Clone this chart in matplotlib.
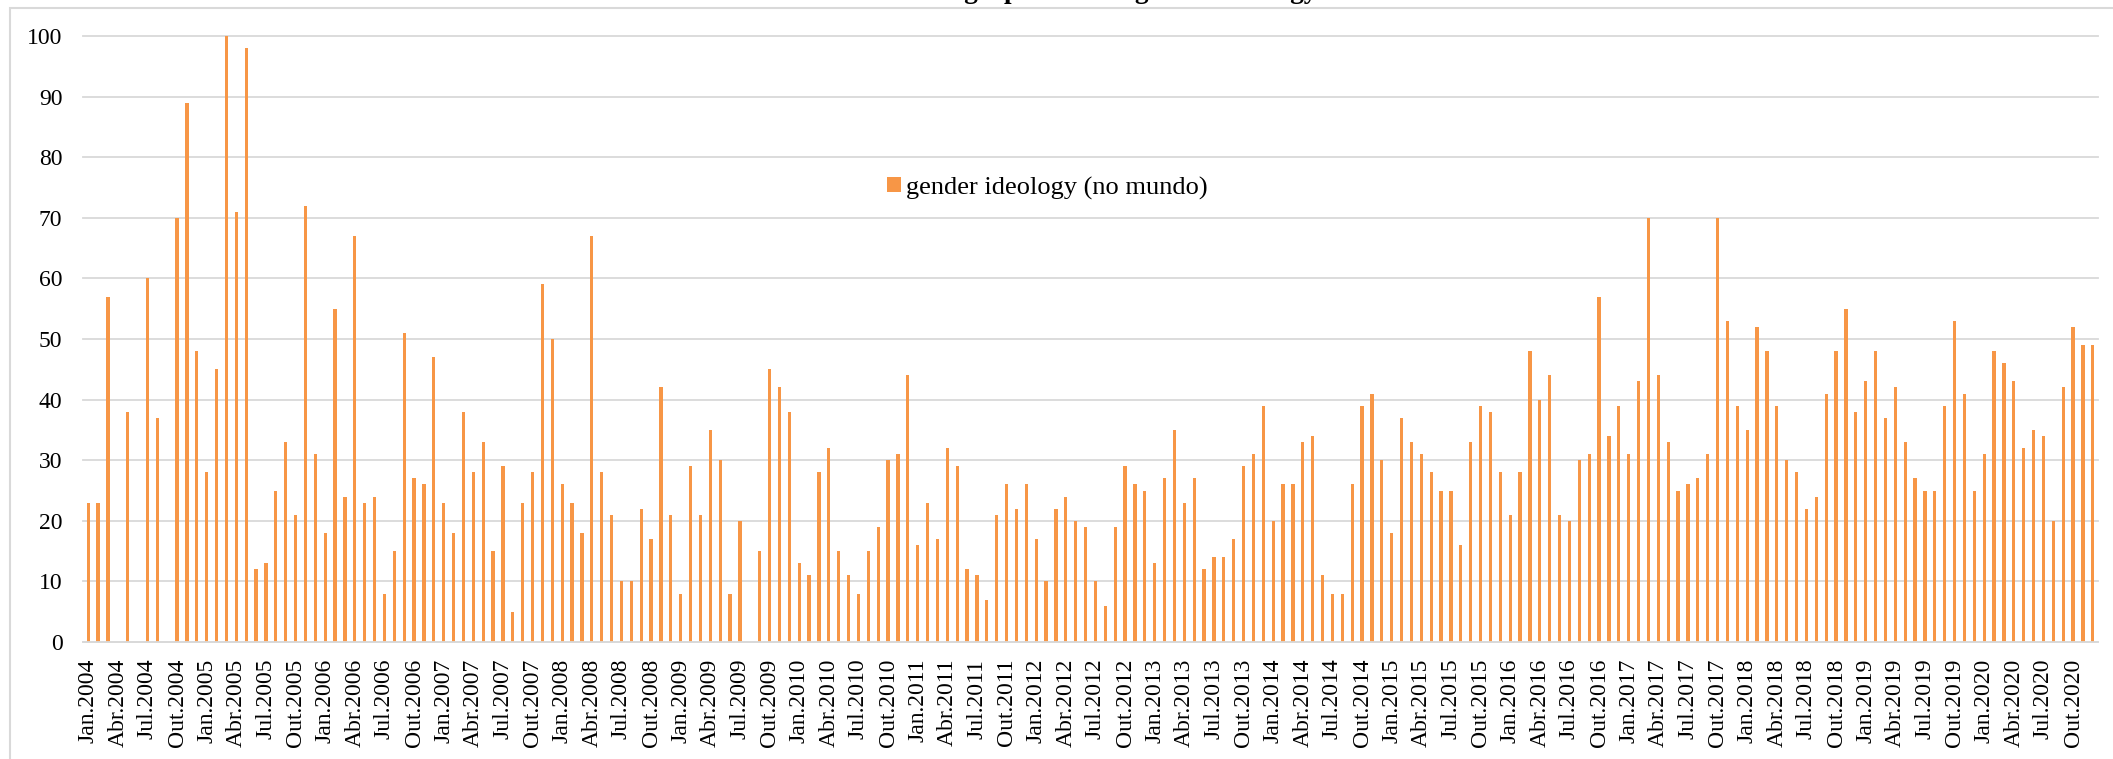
import matplotlib
matplotlib.use('Agg')
import matplotlib.pyplot as plt
import numpy as np
from matplotlib.patches import Rectangle

# categories (monthly, Jan 2004 - Dec 2020)
years = list(range(2004, 2021))
month_names = ['Jan', 'Fev', 'Mar', 'Abr', 'Mai', 'Jun',
               'Jul', 'Ago', 'Set', 'Out', 'Nov', 'Dez']
labels = [f'{m}.{y}' for y in years for m in month_names]

# search interest values per year
v2004 = [23, 23, 57, 0, 38, 0, 60, 37, 0, 70, 89, 48]
v2005 = [28, 45, 100, 71, 98, 12, 13, 25, 33, 21, 72, 31]
v2006 = [18, 55, 24, 67, 23, 24, 8, 15, 51, 27, 26, 47]
v2007 = [23, 18, 38, 28, 33, 15, 29, 5, 23, 28, 59, 50]
v2008 = [26, 23, 18, 67, 28, 21, 10, 10, 22, 17, 42, 21]
v2009 = [8, 29, 21, 35, 30, 8, 20, 0, 15, 45, 42, 38]
v2010 = [13, 11, 28, 32, 15, 11, 8, 15, 19, 30, 31, 44]
v2011 = [16, 23, 17, 32, 29, 12, 11, 7, 21, 26, 22, 26]
v2012 = [17, 10, 22, 24, 20, 19, 10, 6, 19, 29, 26, 25]
v2013 = [13, 27, 35, 23, 27, 12, 14, 14, 17, 29, 31, 39]
v2014 = [20, 26, 26, 33, 34, 11, 8, 8, 26, 39, 41, 30]
v2015 = [18, 37, 33, 31, 28, 25, 25, 16, 33, 39, 38, 28]
v2016 = [21, 28, 48, 40, 44, 21, 20, 30, 31, 57, 34, 39]
v2017 = [31, 43, 70, 44, 33, 25, 26, 27, 31, 70, 53, 39]
v2018 = [35, 52, 48, 39, 30, 28, 22, 24, 41, 48, 55, 38]
v2019 = [43, 48, 37, 42, 33, 27, 25, 25, 39, 53, 41, 25]
v2020 = [31, 48, 46, 43, 32, 35, 34, 20, 42, 52, 49, 49]

values = (v2004 + v2005 + v2006 + v2007 + v2008 + v2009 + v2010 + v2011
          + v2012 + v2013 + v2014 + v2015 + v2016 + v2017 + v2018 + v2019
          + v2020)

series_name = 'gender ideology (no mundo)'
title = 'Buscas no Google pelo termo gender ideology'

plt.rcParams['font.family'] = ['Liberation Serif', 'DejaVu Serif']

W, H = 2113, 759
fig = plt.figure(figsize=(W / 100, H / 100), dpi=100)
ax = fig.add_axes([83.3 / W, 1 - 642 / H, (2097.7 - 83.3) / W, (642 - 36) / H])

x = np.arange(len(labels))
ax.bar(x, values, width=0.33, color='#F79646', label=series_name, zorder=2)

ax.set_xlim(-0.5, len(labels) - 0.5)
ax.set_ylim(0, 100)
ax.set_yticks(range(0, 101, 10))
ax.set_xticks(x[::3])
ax.set_xticklabels(labels[::3], rotation=90)

# gridlines and axis line
ax.yaxis.grid(True, color='#d9d9d9', lw=1.3)
ax.set_axisbelow(True)
for line in ax.get_ygridlines():
    line.set_clip_on(False)
for side in ['top', 'right', 'left']:
    ax.spines[side].set_visible(False)
ax.spines['bottom'].set_color('#d9d9d9')
ax.spines['bottom'].set_linewidth(1.3)

ax.tick_params(axis='both', length=0, labelsize=17)
ax.tick_params(axis='x', pad=12)
ax.tick_params(axis='y', pad=15)

# legend inside the plot area
ax.legend(loc='center', bbox_to_anchor=(1047.5 / W, 1 - 188 / H),
          bbox_transform=fig.transFigure, frameon=False, fontsize=19,
          handlelength=0.52, handleheight=0.52, handletextpad=0.22)

# title (mostly cut off at the top, as in the original)
fig.text(1056 / W, 1 + 2 / H, title, ha='center', va='baseline',
         fontsize=19.5, fontweight='bold')

# chart area border
fig.patches.append(Rectangle((10 / W, -0.2), 1.2, 1.2 - 8 / H,
                             transform=fig.transFigure, fill=False,
                             ec='#d9d9d9', lw=1.5))

fig.savefig('out.png', dpi=100)
